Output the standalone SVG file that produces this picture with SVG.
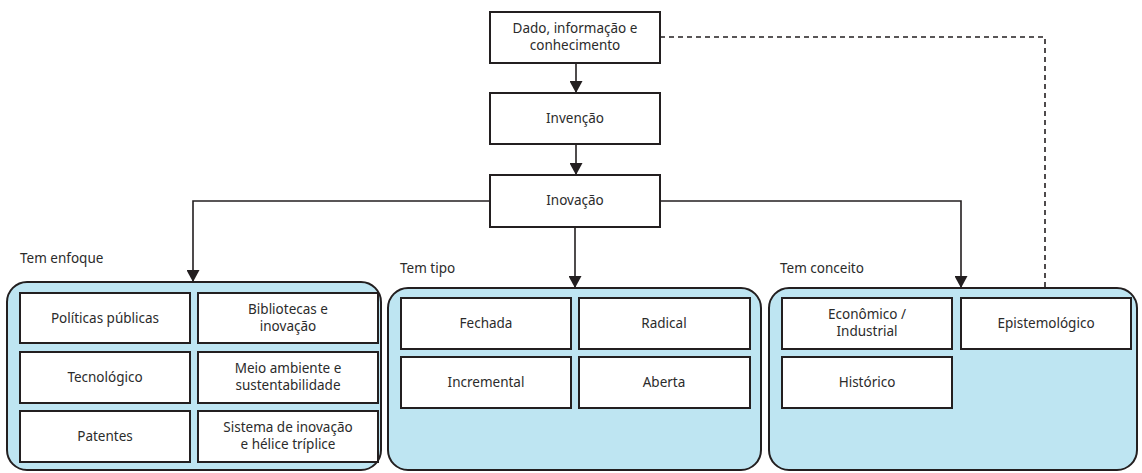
<svg xmlns="http://www.w3.org/2000/svg" width="1142" height="473" viewBox="0 0 1142 473">
<defs>
<marker id="ah" viewBox="0 0 12 13" markerWidth="12" markerHeight="13" refX="12" refY="6.5" orient="auto" markerUnits="userSpaceOnUse">
<path d="M0,0 L12,6.5 L0,13 Z" fill="#231f20"/>
</marker>
</defs>
<style>
.box{fill:#fff;stroke:#231f20;stroke-width:2}
.cont{fill:#bee5f2;stroke:#231f20;stroke-width:2}
.t{font-family:"Noto Sans","Open Sans",sans-serif;font-size:13.5px;fill:#2b2b2b;text-anchor:middle}
.lbl{font-family:"Noto Sans","Open Sans",sans-serif;font-size:13.5px;fill:#2b2b2b}
.c{fill:none;stroke:#231f20;stroke-width:1.6}
.d{fill:none;stroke:#231f20;stroke-width:1.6;stroke-dasharray:5,4}
</style>
<rect width="1142" height="473" fill="#fff"/>
<g id="connectors">
<line class="c" x1="576" y1="63" x2="576" y2="93" marker-end="url(#ah)"/>
<line class="c" x1="576" y1="144" x2="576" y2="175" marker-end="url(#ah)"/>
<polyline class="c" points="490,201 193,201 193,282" marker-end="url(#ah)"/>
<line class="c" x1="575" y1="227" x2="575" y2="288" marker-end="url(#ah)"/>
<polyline class="c" points="660,201 961,201 961,288" marker-end="url(#ah)"/>
<polyline class="d" points="660,37 1045,37 1045,298"/>
</g>
<g id="n-dado"><rect class="box" x="490" y="12" width="170" height="51"/><text class="t" x="575" y="33">Dado, informação e</text><text class="t" x="575" y="50">conhecimento</text></g>
<g id="n-invencao"><rect class="box" x="490" y="93" width="170" height="51"/><text class="t" x="575" y="123">Invenção</text></g>
<g id="n-inovacao"><rect class="box" x="490" y="175" width="170" height="52"/><text class="t" x="575" y="205">Inovação</text></g>
<g id="g-enfoque">
<text class="lbl" x="20" y="263">Tem enfoque</text>
<rect class="cont" x="7" y="282" width="374" height="188" rx="20"/>
</g>
<g id="g-tipo">
<text class="lbl" x="400" y="273">Tem tipo</text>
<rect class="cont" x="388" y="288" width="373" height="182" rx="20"/>
</g>
<g id="g-conceito">
<text class="lbl" x="780" y="273">Tem conceito</text>
<rect class="cont" x="769" y="288" width="368" height="182" rx="20"/>
</g>
<g id="n-politicas"><rect class="box" x="20" y="293" width="170" height="50"/><text class="t" x="105" y="323">Políticas públicas</text></g>
<g id="n-bibliotecas"><rect class="box" x="198" y="293" width="180" height="50"/><text class="t" x="288" y="314">Bibliotecas e</text><text class="t" x="288" y="331">inovação</text></g>
<g id="n-tecnologico"><rect class="box" x="20" y="352" width="170" height="51"/><text class="t" x="105" y="382">Tecnológico</text></g>
<g id="n-meio"><rect class="box" x="198" y="352" width="180" height="51"/><text class="t" x="288" y="373">Meio ambiente e</text><text class="t" x="288" y="390">sustentabilidade</text></g>
<g id="n-patentes"><rect class="box" x="20" y="411" width="170" height="51"/><text class="t" x="105" y="441">Patentes</text></g>
<g id="n-sistema"><rect class="box" x="198" y="411" width="180" height="51"/><text class="t" x="288" y="432">Sistema de inovação</text><text class="t" x="288" y="449">e hélice tríplice</text></g>
<g id="n-fechada"><rect class="box" x="401" y="298" width="170" height="51"/><text class="t" x="486" y="328">Fechada</text></g>
<g id="n-radical"><rect class="box" x="579" y="298" width="171" height="51"/><text class="t" x="664" y="328">Radical</text></g>
<g id="n-incremental"><rect class="box" x="401" y="357" width="170" height="51"/><text class="t" x="486" y="387">Incremental</text></g>
<g id="n-aberta"><rect class="box" x="579" y="357" width="171" height="51"/><text class="t" x="664" y="387">Aberta</text></g>
<g id="n-economico"><rect class="box" x="782" y="298" width="170" height="51"/><text class="t" x="867" y="319">Econômico /</text><text class="t" x="867" y="336">Industrial</text></g>
<g id="n-epistemologico"><rect class="box" x="961" y="298" width="170" height="51"/><text class="t" x="1046" y="328">Epistemológico</text></g>
<g id="n-historico"><rect class="box" x="782" y="357" width="170" height="51"/><text class="t" x="867" y="387">Histórico</text></g>
</svg>
